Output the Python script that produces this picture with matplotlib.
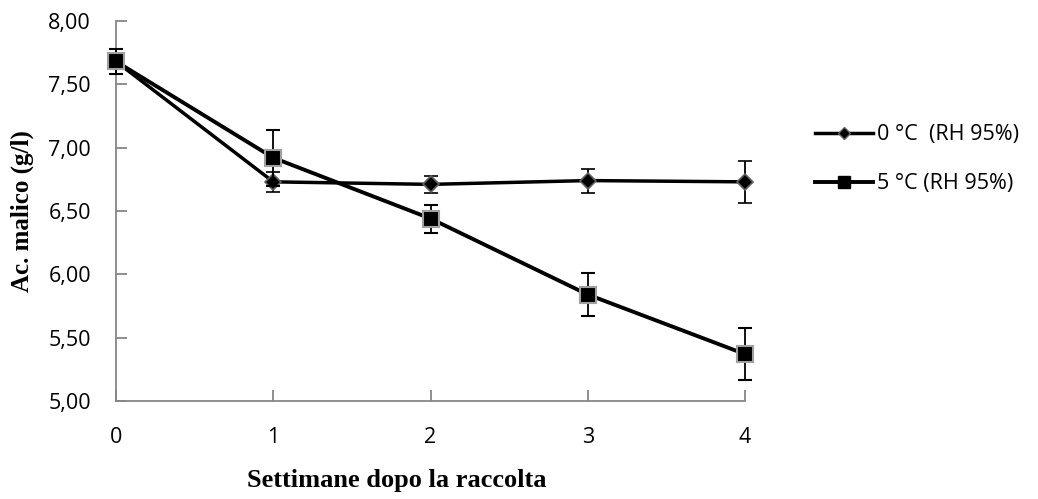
import matplotlib
matplotlib.use("Agg")
import matplotlib.pyplot as plt
from matplotlib.lines import Line2D
from matplotlib.ticker import FuncFormatter, MultipleLocator

weeks = [0, 1, 2, 3, 4]
t0_mean = [7.68, 6.73, 6.71, 6.74, 6.73]
t0_err = [0.10, 0.08, 0.07, 0.095, 0.165]
t5_mean = [7.68, 6.92, 6.44, 5.84, 5.37]
t5_err = [0.10, 0.22, 0.11, 0.17, 0.205]
labels = ["0 °C  (RH 95%)", "5 °C (RH 95%)"]

fig = plt.figure(figsize=(10.38, 4.99), dpi=100)
ax = fig.add_axes([0.1118, 0.1964, 0.606, 0.7616])

l0 = ax.errorbar(weeks, t0_mean, yerr=t0_err, color="black", lw=2.5, marker="D",
                 ms=8, mfc="black", mec="#606060", mew=1.2, ecolor="black",
                 elinewidth=1.3, capsize=5, capthick=1.3, zorder=3)
l5 = ax.errorbar(weeks, t5_mean, yerr=t5_err, color="black", lw=2.8, marker="s",
                 ms=11, mfc="black", mec="#a0a0a0", mew=1.5, ecolor="black",
                 elinewidth=1.3, capsize=5, capthick=1.3, zorder=4)
for c in (l0, l5):
    c[0].set_clip_on(False)
    for art in c[1] + c[2]:
        art.set_clip_on(False)

ax.set_xlim(0, 4)
ax.set_ylim(5, 8)
ax.xaxis.set_major_locator(MultipleLocator(1))
ax.yaxis.set_major_locator(MultipleLocator(0.5))
ax.yaxis.set_major_formatter(FuncFormatter(lambda v, p: f"{v:.2f}".replace(".", ",")))

for s in ["top", "right"]:
    ax.spines[s].set_visible(False)
for s in ["left", "bottom"]:
    ax.spines[s].set_color("#868686")
    ax.spines[s].set_linewidth(1.3)
ax.tick_params(axis="both", direction="in", length=8, width=1.3, color="#868686",
               labelsize=15.5)
ax.tick_params(axis="y", pad=18)
ax.tick_params(axis="x", pad=19)
for t in ax.get_xticklabels() + ax.get_yticklabels():
    t.set_family("Open Sans")
ax.patch.set_visible(False)

ax.set_ylabel("Ac. malico (g/l)", family="Liberation Serif", fontweight="bold",
              fontsize=18)
ax.yaxis.set_label_coords(-0.13, 0.5)
ax.set_xlabel("Settimane dopo la raccolta", family="Liberation Serif",
              fontweight="bold", fontsize=19)
ax.xaxis.set_label_coords(0.447, -0.18)

h = [Line2D([], [], color="black", lw=2.5, marker="D", ms=6, mfc="black",
            mec="#606060"),
     Line2D([], [], color="black", lw=2.8, marker="s", ms=9, mfc="black",
            mec="black")]
leg = fig.legend(h, labels, loc="center left", bbox_to_anchor=(0.785, 0.681),
                 frameon=False, prop={"family": "Open Sans", "size": 15.5},
                 handlelength=2.7, handletextpad=0.2, labelspacing=1.3,
                 borderpad=0, borderaxespad=0)

fig.savefig("out.png", dpi=100)
